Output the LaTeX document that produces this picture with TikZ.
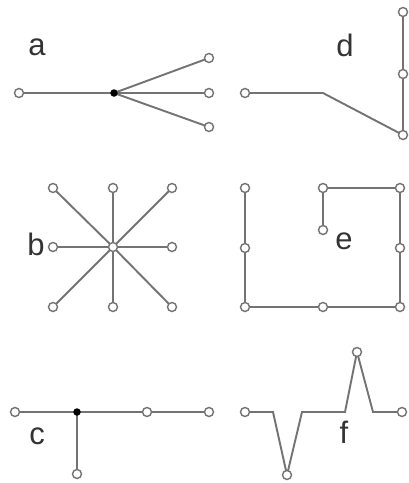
\documentclass[tikz,border=0pt]{standalone}
\usepackage{fontspec}
\setmainfont{Liberation Sans}
\begin{document}
\begin{tikzpicture}[x=1pt,y=-1pt,
  edge/.style={draw=black!55,line width=1.9pt},
  vtx/.style={circle,draw=black!55,fill=white,line width=1.4pt,inner sep=0pt,minimum size=9pt},
  dot/.style={circle,fill=black,inner sep=0pt,minimum size=7.5pt},
  lbl/.style={text=black!80,font=\fontsize{31}{33}\selectfont}]
\useasboundingbox[fill=white] (0,0) rectangle (409,483);
% panel a
\coordinate (a0) at (19,93);
\coordinate (ac) at (114,93);
\coordinate (a1) at (209,58);
\coordinate (a2) at (209,93);
\coordinate (a3) at (209,127);
\draw[edge] (a0) -- (ac) (ac) -- (a1) (ac) -- (a2) (ac) -- (a3);
\node[vtx] (na0) at (a0) {};
\node[dot] (nac) at (ac) {};
\node[vtx] (na1) at (a1) {};
\node[vtx] (na2) at (a2) {};
\node[vtx] (na3) at (a3) {};
\node[lbl] (la) at (37,47) {a};
% panel d
\coordinate (d0) at (245,93);
\coordinate (db) at (323,93);
\coordinate (d1) at (403,135);
\coordinate (d2) at (403,74);
\coordinate (d3) at (403,12);
\draw[edge] (d0) -- (db) -- (d1) -- (d2) -- (d3);
\node[vtx] (nd0) at (d0) {};
\node[vtx] (nd1) at (d1) {};
\node[vtx] (nd2) at (d2) {};
\node[vtx] (nd3) at (d3) {};
\node[lbl] (ld) at (345,45) {d};
% panel b
\coordinate (bc) at (113,247);
\foreach \n/\x/\y in {b1/53/188,b2/113/188,b3/172/188,b4/53/247,b5/172/247,b6/53/307,b7/113/307,b8/172/307}{
  \coordinate (\n) at (\x,\y);
  \draw[edge] (bc) -- (\n);
}
\foreach \n in {b1,b2,b3,b4,b5,b6,b7,b8}{\node[vtx] (n\n) at (\n) {};}
\node[vtx] (nbc) at (bc) {};
\node[lbl] (lb) at (36,244) {b};
% panel e
\coordinate (e1) at (245,188);
\coordinate (e2) at (245,248);
\coordinate (e3) at (245,307);
\coordinate (e4) at (323,307);
\coordinate (e5) at (400,307);
\coordinate (e6) at (400,248);
\coordinate (e7) at (400,188);
\coordinate (e8) at (323,188);
\coordinate (e9) at (323,230);
\draw[edge] (e1) -- (e2) -- (e3) -- (e4) -- (e5) -- (e6) -- (e7) -- (e8) -- (e9);
\foreach \n in {e1,e2,e3,e4,e5,e6,e7,e8,e9}{\node[vtx] (n\n) at (\n) {};}
\node[lbl] (le) at (344,241) {e};
% panel c
\coordinate (c0) at (15,412);
\coordinate (cc) at (77,412);
\coordinate (c1) at (147,412);
\coordinate (c2) at (209,412);
\coordinate (c3) at (77,474);
\draw[edge] (c0) -- (cc) -- (c1) -- (c2) (cc) -- (c3);
\node[vtx] (nc0) at (c0) {};
\node[dot] (ncc) at (cc) {};
\node[vtx] (nc1) at (c1) {};
\node[vtx] (nc2) at (c2) {};
\node[vtx] (nc3) at (c3) {};
\node[lbl] (lc) at (37,436) {c};
% panel f
\coordinate (f0) at (245,412);
\coordinate (f1) at (287,475);
\coordinate (f2) at (357,352);
\coordinate (f3) at (402,412);
\draw[edge] (f0) -- (273,412) -- (f1) -- (302,412) -- (345,412) -- (f2) -- (373,412) -- (f3);
\node[vtx] (nf0) at (f0) {};
\node[vtx] (nf1) at (f1) {};
\node[vtx] (nf2) at (f2) {};
\node[vtx] (nf3) at (f3) {};
\node[lbl] (lf) at (344,432) {f};
\end{tikzpicture}
\end{document}
